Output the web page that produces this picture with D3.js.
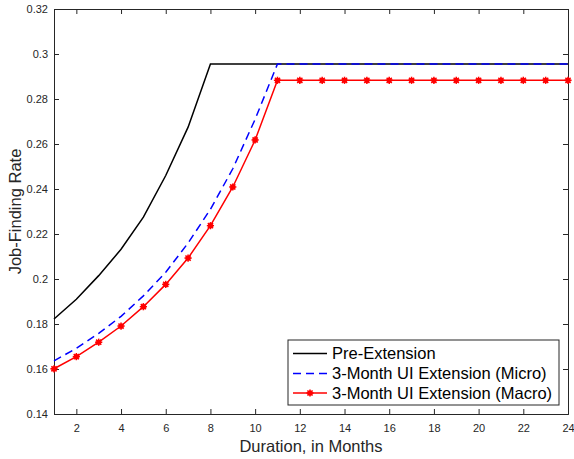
<!DOCTYPE html>
<html>
<head>
<meta charset="utf-8">
<script src="https://cdn.jsdelivr.net/npm/d3@7"></script>
<style>
  html, body { margin: 0; padding: 0; background: #fff; }
  svg { display: block; font-family: "Liberation Sans", Arial, Helvetica, sans-serif; }
</style>
</head>
<body>
<svg id="chart" width="574" height="459"></svg>
<script>
// ---- data ----
const preMonths = [1, 2, 3, 4, 5, 6, 7, 8, 24];
const preValues = [0.1822, 0.1910, 0.2015, 0.2132, 0.2275, 0.2460, 0.2675, 0.2956, 0.2956];

const microMonths = [1, 2, 3, 4, 5, 6, 7, 8, 9, 10, 11, 24];
const microValues = [0.1636, 0.1692, 0.1758, 0.1834, 0.1925, 0.2030, 0.2160, 0.2310, 0.2490, 0.2710, 0.2956, 0.2956];

const macroMonths = [1, 2, 3, 4, 5, 6, 7, 8, 9, 10, 11, 12, 13, 14, 15, 16, 17, 18, 19, 20, 21, 22, 23, 24];
const macroValues = [0.1601, 0.1655, 0.1719, 0.1791, 0.1877, 0.1976, 0.2093, 0.2237, 0.2409, 0.2618, 0.2883,
  0.2883, 0.2883, 0.2883, 0.2883, 0.2883, 0.2883, 0.2883, 0.2883, 0.2883, 0.2883, 0.2883, 0.2883, 0.2883];

const xTicks = [2, 4, 6, 8, 10, 12, 14, 16, 18, 20, 22, 24];
const yTicks = [0.14, 0.16, 0.18, 0.2, 0.22, 0.24, 0.26, 0.28, 0.3, 0.32];
const seriesNames = ["Pre-Extension", "3-Month UI Extension (Micro)", "3-Month UI Extension (Macro)"];
const xLabel = "Duration, in Months";
const yLabel = "Job-Finding Rate";

// ---- layout ----
const svg = d3.select("#chart");
const L = 54, R = 568, T = 9, B = 414;
const axisColor = "#262626";

const x = d3.scaleLinear().domain([1, 24]).range([L, R]);
const y = d3.scaleLinear().domain([0.14, 0.32]).range([B, T]);

const fmt = v => String(+v.toFixed(2));

// axes (ticks inside)
const tickLen = 5;
const gx = svg.append("g").attr("transform", `translate(0,${B})`)
  .call(d3.axisBottom(x).tickValues(xTicks).tickSize(-tickLen).tickPadding(10).tickFormat(d3.format("d")));
const gxTop = svg.append("g").attr("transform", `translate(0,${T})`)
  .call(d3.axisTop(x).tickValues(xTicks).tickSize(-tickLen).tickFormat(""));
const gy = svg.append("g").attr("transform", `translate(${L},0)`)
  .call(d3.axisLeft(y).tickValues(yTicks).tickSize(-tickLen).tickPadding(6).tickFormat(fmt));
const gyR = svg.append("g").attr("transform", `translate(${R},0)`)
  .call(d3.axisRight(y).tickValues(yTicks).tickSize(-tickLen).tickFormat(""));

[gx, gxTop, gy, gyR].forEach(g => {
  g.select(".domain").attr("stroke", axisColor).attr("stroke-width", 1);
  g.selectAll(".tick line").attr("stroke", axisColor).attr("stroke-width", 1);
  g.selectAll(".tick text").attr("fill", axisColor).style("font-size", "11px")
    .style("font-family", '"Liberation Sans", Arial, sans-serif');
});
gx.selectAll(".tick text").attr("dy", "0.71em");

// axis labels
svg.append("text").attr("x", (L + R) / 2).attr("y", 451.5).attr("text-anchor", "middle")
  .attr("fill", axisColor).style("font-size", "16.5px").text(xLabel);
svg.append("text").attr("transform", `translate(15,${(T + B) / 2}) rotate(-90)`)
  .attr("text-anchor", "middle").attr("dy", "0.35em").attr("fill", axisColor).style("font-size", "16.5px").text(yLabel);

// lines
const line = d3.line().x(d => x(d[0])).y(d => y(d[1]));
const preData = preMonths.map((m, i) => [m, preValues[i]]);
const microData = microMonths.map((m, i) => [m, microValues[i]]);
const macroData = macroMonths.map((m, i) => [m, macroValues[i]]);

svg.append("path").datum(preData).attr("d", line).attr("fill", "none")
  .attr("stroke", "#000").attr("stroke-width", 1.5);
svg.append("path").datum(microData).attr("d", line).attr("fill", "none")
  .attr("stroke", "#0000ff").attr("stroke-width", 1.5).attr("stroke-dasharray", "8,5");
svg.append("path").datum(macroData).attr("d", line).attr("fill", "none")
  .attr("stroke", "#ff0000").attr("stroke-width", 1.5);

function marker(g, cx, cy) {
  const s = 3.6;
  g.append("circle").attr("cx", cx).attr("cy", cy).attr("r", 2.6).attr("fill", "#ff0000");
  const pts = [[-s, 0, s, 0], [0, -s, 0, s], [-s * 0.72, -s * 0.72, s * 0.72, s * 0.72], [-s * 0.72, s * 0.72, s * 0.72, -s * 0.72]];
  pts.forEach(p => g.append("line").attr("x1", cx + p[0]).attr("y1", cy + p[1]).attr("x2", cx + p[2]).attr("y2", cy + p[3])
    .attr("stroke", "#ff0000").attr("stroke-width", 1.5));
}
const mg = svg.append("g");
macroData.forEach(d => marker(mg, x(d[0]), y(d[1])));

// legend
const lx = 288, ly = 340, lw = 271, lh = 65;
const leg = svg.append("g");
leg.append("rect").attr("x", lx).attr("y", ly).attr("width", lw).attr("height", lh)
  .attr("fill", "#fff").attr("stroke", axisColor).attr("stroke-width", 1);
const rows = [353.5, 373.5, 393];
const x1 = 293, x2 = 327;
leg.append("line").attr("x1", x1).attr("x2", x2).attr("y1", rows[0]).attr("y2", rows[0]).attr("stroke", "#000").attr("stroke-width", 1.5);
leg.append("line").attr("x1", x1).attr("x2", x2).attr("y1", rows[1]).attr("y2", rows[1]).attr("stroke", "#0000ff").attr("stroke-width", 1.5).attr("stroke-dasharray", "8,5");
leg.append("line").attr("x1", x1).attr("x2", x2).attr("y1", rows[2]).attr("y2", rows[2]).attr("stroke", "#ff0000").attr("stroke-width", 1.5);
marker(leg, (x1 + x2) / 2, rows[2]);
seriesNames.forEach((n, i) => {
  leg.append("text").attr("x", 332).attr("y", rows[i]).attr("dy", "0.35em")
    .attr("fill", "#000").style("font-size", "16.5px").text(n);
});
</script>
</body>
</html>
